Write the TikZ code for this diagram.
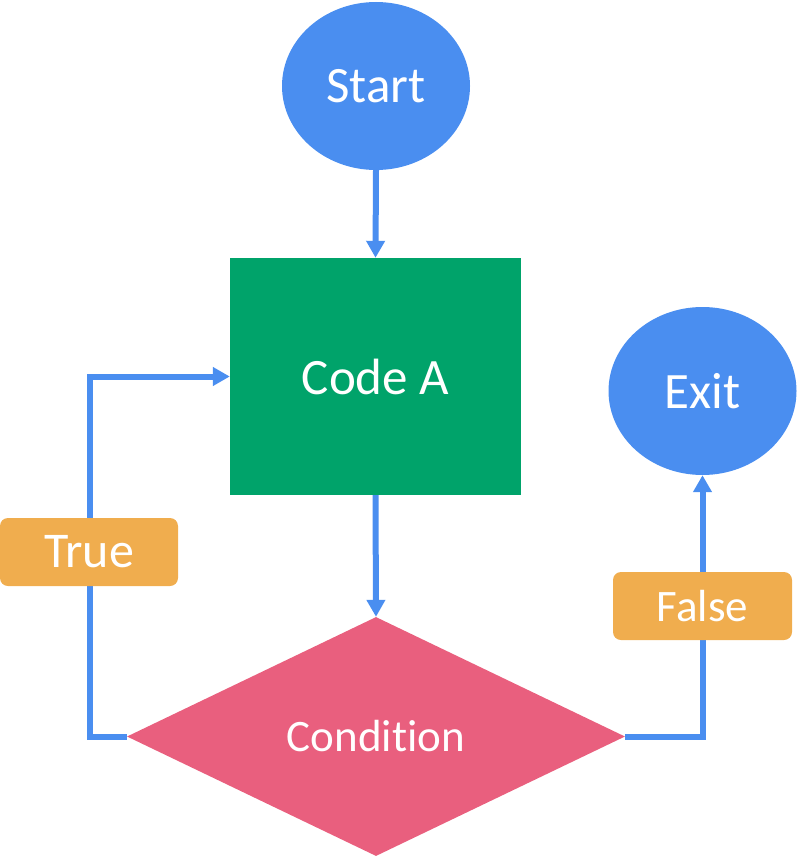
\documentclass[tikz,border=0pt]{standalone}
\usepackage{fontspec}
\setmainfont{Carlito}[Ligatures=NoCommon]
\usetikzlibrary{shapes.geometric,arrows.meta}
\definecolor{cblue}{HTML}{4A8EF0}
\definecolor{cgreen}{HTML}{00A36A}
\definecolor{cpink}{HTML}{E95F7E}
\definecolor{corange}{HTML}{F0AD4E}
\tikzset{
  oval/.style={ellipse, fill=cblue, draw=none, text=white, minimum width=188pt, minimum height=168pt, inner sep=0pt, font=\fontsize{51}{60}\selectfont},
  codebox/.style={rectangle, fill=cgreen, draw=none, text=white, minimum width=291pt, minimum height=237pt, inner sep=0pt, font=\fontsize{51}{60}\selectfont},
  cond/.style={diamond, fill=cpink, draw=none, text=white, minimum width=498pt, minimum height=239pt, shape aspect=2.0837, inner sep=0pt, font=\fontsize{45}{54}\selectfont},
  tag/.style={rectangle, rounded corners=8pt, fill=corange, draw=none, text=white, minimum height=68pt, inner sep=0pt},
  conn/.style={draw=cblue, line width=6pt, -{Triangle[width=18pt,length=17pt]}}
}
\begin{document}
\begin{tikzpicture}[x=1pt,y=-1pt]
\useasboundingbox (0,0) rectangle (796,856);
\node[oval] (start) at (376,86) {Start};
\node[codebox] (code) at (375.5,376.5) {Code A};
\node[cond] (cnd) at (376,736.5) {Condition};
\node[oval] (exit) at (702.5,391) {Exit};
\coordinate (tl) at (89.5,376.5);
\draw[conn] (start.south) -- (code.north);
\draw[conn] (code.south) -- (cnd.north);
\draw[conn] (cnd.west) -| (tl) -- (code.west);
\draw[conn] (cnd.east) -| (exit.south);
\node[tag, minimum width=178pt, font=\fontsize{50}{60}\selectfont] (true) at (89,552) {True};
\node[tag, minimum width=179pt, font=\fontsize{45}{54}\selectfont] (false) at (702.5,606) {False};
\end{tikzpicture}
\end{document}
